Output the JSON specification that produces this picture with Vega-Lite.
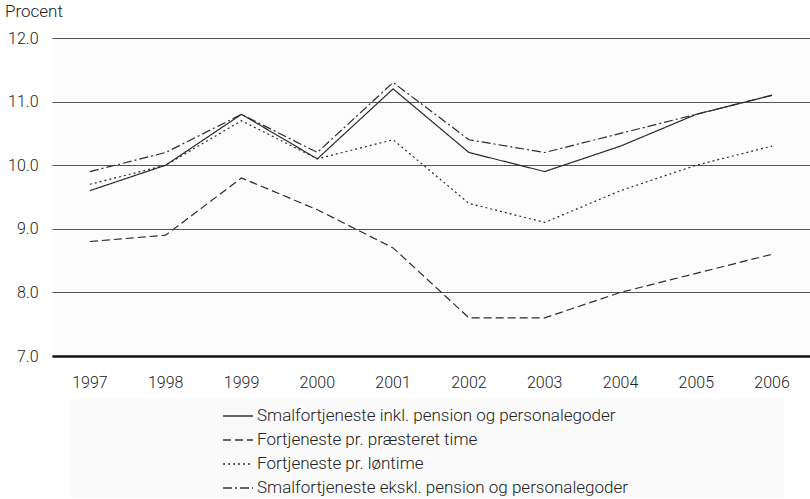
{
  "$schema": "https://vega.github.io/schema/vega-lite/v6.json",
  "width": 758,
  "height": 318,
  "autosize": {"type": "none"},
  "padding": {"left": 52, "top": 38, "right": 0, "bottom": 143},
  "background": "white",
  "title": {"text": "Procent", "anchor": "start", "frame": "group", "dx": -47, "offset": 9, "fontSize": 17, "fontWeight": 300, "font": "Roboto", "color": "#222"},
  "config": {
    "font": "Roboto",
    "view": {"stroke": null, "fill": "#fcfcfc"},
    "axis": {"labelFont": "Roboto", "labelFontSize": 16, "labelFontWeight": 300, "labelColor": "#222", "ticks": false}
  },
  "data": {"values": [
    {"year": "1997", "serie": "Smalfortjeneste inkl. pension og personalegoder", "value": 9.6},
    {"year": "1998", "serie": "Smalfortjeneste inkl. pension og personalegoder", "value": 10.0},
    {"year": "1999", "serie": "Smalfortjeneste inkl. pension og personalegoder", "value": 10.8},
    {"year": "2000", "serie": "Smalfortjeneste inkl. pension og personalegoder", "value": 10.1},
    {"year": "2001", "serie": "Smalfortjeneste inkl. pension og personalegoder", "value": 11.2},
    {"year": "2002", "serie": "Smalfortjeneste inkl. pension og personalegoder", "value": 10.2},
    {"year": "2003", "serie": "Smalfortjeneste inkl. pension og personalegoder", "value": 9.9},
    {"year": "2004", "serie": "Smalfortjeneste inkl. pension og personalegoder", "value": 10.3},
    {"year": "2005", "serie": "Smalfortjeneste inkl. pension og personalegoder", "value": 10.8},
    {"year": "2006", "serie": "Smalfortjeneste inkl. pension og personalegoder", "value": 11.1},
    {"year": "1997", "serie": "Fortjeneste pr. præsteret time", "value": 8.8},
    {"year": "1998", "serie": "Fortjeneste pr. præsteret time", "value": 8.9},
    {"year": "1999", "serie": "Fortjeneste pr. præsteret time", "value": 9.8},
    {"year": "2000", "serie": "Fortjeneste pr. præsteret time", "value": 9.3},
    {"year": "2001", "serie": "Fortjeneste pr. præsteret time", "value": 8.7},
    {"year": "2002", "serie": "Fortjeneste pr. præsteret time", "value": 7.6},
    {"year": "2003", "serie": "Fortjeneste pr. præsteret time", "value": 7.6},
    {"year": "2004", "serie": "Fortjeneste pr. præsteret time", "value": 8.0},
    {"year": "2005", "serie": "Fortjeneste pr. præsteret time", "value": 8.3},
    {"year": "2006", "serie": "Fortjeneste pr. præsteret time", "value": 8.6},
    {"year": "1997", "serie": "Fortjeneste pr. løntime", "value": 9.7},
    {"year": "1998", "serie": "Fortjeneste pr. løntime", "value": 10.0},
    {"year": "1999", "serie": "Fortjeneste pr. løntime", "value": 10.7},
    {"year": "2000", "serie": "Fortjeneste pr. løntime", "value": 10.1},
    {"year": "2001", "serie": "Fortjeneste pr. løntime", "value": 10.4},
    {"year": "2002", "serie": "Fortjeneste pr. løntime", "value": 9.4},
    {"year": "2003", "serie": "Fortjeneste pr. løntime", "value": 9.1},
    {"year": "2004", "serie": "Fortjeneste pr. løntime", "value": 9.6},
    {"year": "2005", "serie": "Fortjeneste pr. løntime", "value": 10.0},
    {"year": "2006", "serie": "Fortjeneste pr. løntime", "value": 10.3},
    {"year": "1997", "serie": "Smalfortjeneste ekskl. pension og personalegoder", "value": 9.9},
    {"year": "1998", "serie": "Smalfortjeneste ekskl. pension og personalegoder", "value": 10.2},
    {"year": "1999", "serie": "Smalfortjeneste ekskl. pension og personalegoder", "value": 10.8},
    {"year": "2000", "serie": "Smalfortjeneste ekskl. pension og personalegoder", "value": 10.2},
    {"year": "2001", "serie": "Smalfortjeneste ekskl. pension og personalegoder", "value": 11.3},
    {"year": "2002", "serie": "Smalfortjeneste ekskl. pension og personalegoder", "value": 10.4},
    {"year": "2003", "serie": "Smalfortjeneste ekskl. pension og personalegoder", "value": 10.2},
    {"year": "2004", "serie": "Smalfortjeneste ekskl. pension og personalegoder", "value": 10.5},
    {"year": "2005", "serie": "Smalfortjeneste ekskl. pension og personalegoder", "value": 10.8},
    {"year": "2006", "serie": "Smalfortjeneste ekskl. pension og personalegoder", "value": 11.1}
  ]},
  "mark": {"type": "line", "color": "#2b2b2b", "strokeWidth": 1.2},
  "encoding": {
    "x": {
      "field": "year", "type": "ordinal",
      "scale": {"type": "band", "paddingInner": 0, "paddingOuter": 0},
      "axis": {"title": null, "labelAngle": 0, "labelPadding": 18, "domainColor": "#111", "domainWidth": 2.5, "grid": false}
    },
    "y": {
      "field": "value", "type": "quantitative",
      "scale": {"domain": [7, 12], "nice": false, "zero": false},
      "axis": {"title": null, "values": [7, 8, 9, 10, 11, 12], "format": ".1f", "labelPadding": 14, "domain": false, "grid": true, "gridColor": "#555", "gridWidth": 1, "gridOpacity": 1}
    },
    "strokeDash": {
      "field": "serie", "type": "nominal",
      "scale": {
        "domain": ["Smalfortjeneste inkl. pension og personalegoder", "Fortjeneste pr. præsteret time", "Fortjeneste pr. løntime", "Smalfortjeneste ekskl. pension og personalegoder"],
        "range": [[1, 0], [8, 4], [2, 3], [9, 3, 2, 3]]
      },
      "legend": {
        "orient": "none", "legendX": 18, "legendY": 360, "direction": "vertical",
        "title": " ", "titleOrient": "left", "titlePadding": 150, "titleFontSize": 16,
        "fillColor": "#fafafa", "padding": 2,
        "symbolType": "stroke", "symbolSize": 900, "symbolStrokeWidth": 1.5, "symbolStrokeColor": "#333",
        "labelFont": "Roboto", "labelFontSize": 17, "labelFontWeight": 300, "labelColor": "#222", "labelOffset": 3, "labelLimit": 800, "rowPadding": 0,
        "labelExpr": "datum.label + '\u00a0\u00a0\u00a0\u00a0\u00a0\u00a0\u00a0\u00a0\u00a0\u00a0\u00a0\u00a0\u00a0\u00a0\u00a0\u00a0\u00a0\u00a0\u00a0\u00a0\u00a0\u00a0\u00a0\u00a0\u00a0\u00a0\u00a0\u00a0\u00a0\u00a0\u00a0\u00a0\u00a0\u00a0\u00a0\u00a0\u00a0\u200b'"
      }
    }
  }
}
